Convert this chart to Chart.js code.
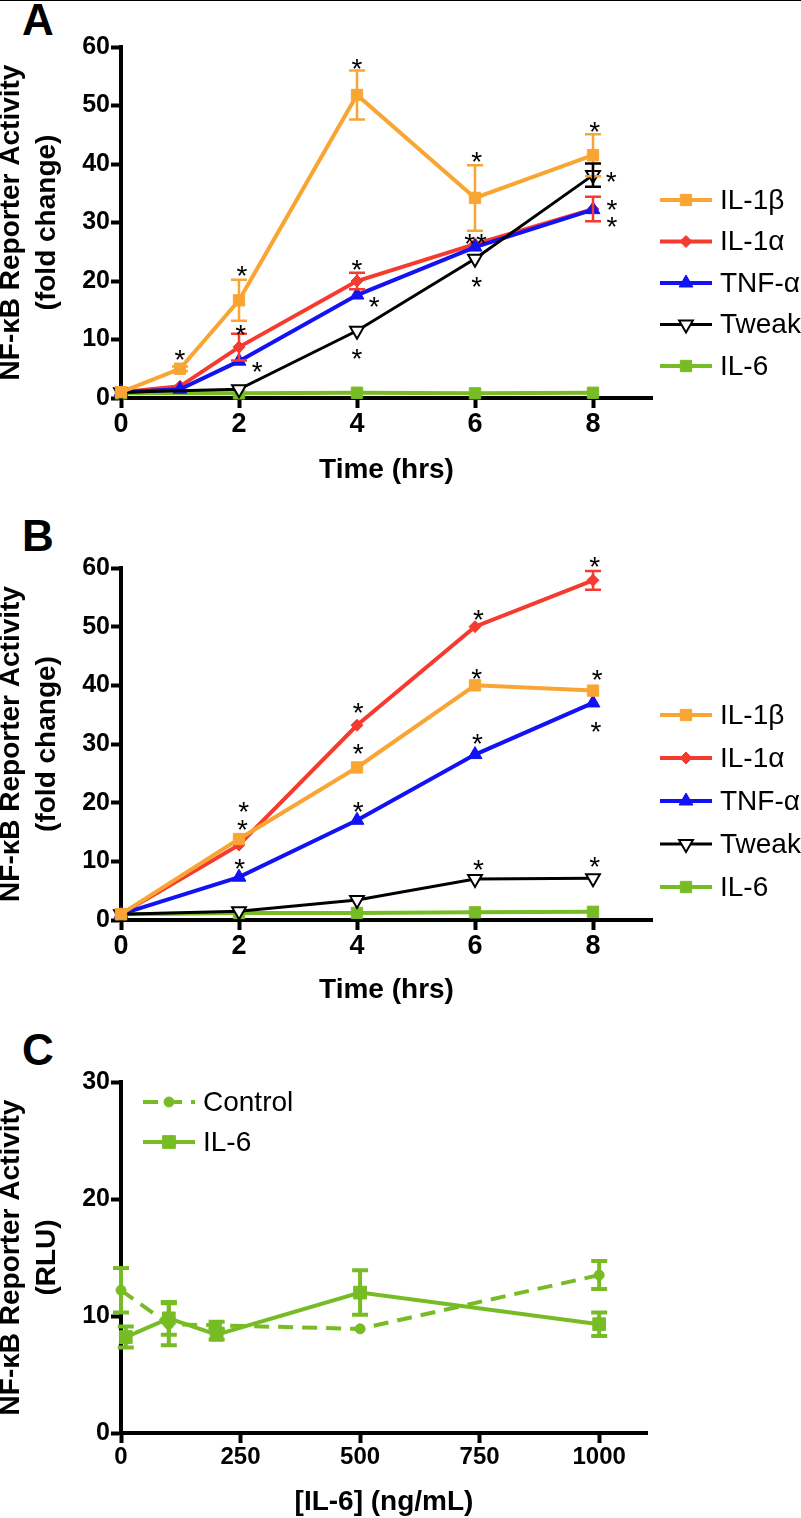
<!DOCTYPE html>
<html>
<head>
<meta charset="utf-8">
<script src="https://cdn.jsdelivr.net/npm/chart.js@4.4.1/dist/chart.umd.min.js"></script>
<style>
  body { margin: 0; background: #fff; width: 801px; height: 1518px; position: relative; overflow: hidden; }
  .topline { position: absolute; left: 0; top: 0; width: 801px; height: 1px; background: #000; }
  canvas { position: absolute; left: 0; }
  .letter { position: absolute; left: 22px; font: bold 44px "Liberation Sans", Arial, sans-serif; line-height: 1; }
</style>
</head>
<body>
<div class="topline"></div>
<div class="letter" style="top:-2px">A</div>
<div class="letter" style="top:514px">B</div>
<div class="letter" style="top:1028px">C</div>
<canvas id="chartA" width="801" height="490" style="top:0px"></canvas>
<canvas id="chartB" width="801" height="520" style="top:490px"></canvas>
<canvas id="chartC" width="801" height="508" style="top:1010px"></canvas>
<script>
const FONT = '"Liberation Sans", Arial, sans-serif';

// ---- Panel A: time course (fold change) ----
const hoursA = [0, 1, 2, 4, 6, 8];
const hoursA2 = [0, 2, 4, 6, 8];        // Tweak and IL-6 have no 1 h point
const il1bA = [1, 5.0, 16.7, 51.8, 34.2, 41.5];
const il1bErrA = [0, 0.4, 3.5, 4.2, 5.6, 3.6];
const il1aA = [1, 2.0, 8.7, 20.0, 26.3, 32.3];
const il1aErrA = [0, 0, 2.3, 1.4, 0, 2.1];
const tnfA = [1, 1.5, 6.3, 17.6, 25.8, 32.2];
const tweakA = [1, 1.5, 11.5, 23.8, 38.1];
const tweakErrA = [0, 0, 0, 0, 2.0];
const il6A = [0.8, 0.8, 0.9, 0.8, 0.9];
const starsA = [[1, 7.7], [2.05, 22], [2.03, 12.0], [2.31, 5.6], [4, 57.4], [4, 23.1], [4.29, 16.8], [4, 7.9],
  [6.03, 41.5], [5.91, 27.6], [6.11, 27.6], [6.03, 20.2], [8.03, 46.7], [8.31, 38.1], [8.32, 33.3], [8.32, 30.4]];
const xTicksA = [0, 2, 4, 6, 8];
const yTicksA = [0, 10, 20, 30, 40, 50, 60];

// ---- Panel B: time course (fold change) ----
const hoursB = [0, 2, 4, 6, 8];
const il1bB = [1, 13.8, 26.0, 40.0, 39.1];
const il1aB = [1, 12.8, 33.2, 50.0, 57.9];
const il1aErrB = [0, 0, 0, 0, 1.6];
const tnfB = [1, 7.3, 17.0, 28.2, 37.0];
const tweakB = [1, 1.5, 3.4, 7.0, 7.1];
const il6B = [1, 1.2, 1.2, 1.3, 1.4];
const starsB = [[2.08, 19.6], [2.06, 16.5], [2.01, 9.9], [4.02, 36.5], [4.02, 29.5], [4.02, 19.6],
  [6.06, 52.3], [6.03, 42.2], [6.04, 31.2], [6.06, 9.7], [8.03, 61.3], [8.07, 42.1], [8.05, 33.2], [8.03, 10.2]];

// ---- Panel C: IL-6 dose response (RLU) ----
const doseControl = [0, 100, 200, 500, 1000];
const control = [12.2, 9.3, 9.2, 8.9, 13.5];
const controlErr = [1.9, 1.8, 0.3, 0, 1.2];
const doseIL6 = [10, 100, 200, 500, 1000];
const il6 = [8.2, 9.8, 8.4, 12.0, 9.3];
const il6Err = [0.9, 1.4, 0.4, 1.9, 1.0];
const xTicksC = [0, 250, 500, 750, 1000];
const yTicksC = [0, 10, 20, 30];

const ORANGE = '#F9A533', RED = '#F53B2F', BLUE = '#1212F2', GREEN = '#78BC25';

function pts(xs, ys) {
  return xs.map((x, i) => ({ x: x, y: ys[i] }));
}

function series(label, xs, ys, errs, color, extra) {
  return Object.assign({
    label: label,
    data: pts(xs, ys),
    errors: errs,
    borderColor: color,
    backgroundColor: color,
    pointBackgroundColor: color,
    pointBorderColor: color,
    pointBorderWidth: 1,
    borderWidth: 4,
    pointRadius: 8,
    pointStyle: 'rect',
    fill: false,
    tension: 0,
    clip: false
  }, extra || {});
}

// error bars with caps
const errorBars = {
  id: 'errorBars',
  afterDatasetsDraw(chart, args, opts) {
    const ctx = chart.ctx;
    const xs = chart.scales.x, ys = chart.scales.y;
    chart.data.datasets.forEach(ds => {
      if (!ds.errors) return;
      ctx.save();
      ctx.strokeStyle = ds.borderColor;
      ctx.lineWidth = opts.width;
      ds.data.forEach((p, j) => {
        const e = ds.errors[j];
        if (!e) return;
        const px = xs.getPixelForValue(p.x);
        const top = ys.getPixelForValue(p.y + e);
        const bot = ys.getPixelForValue(p.y - e);
        const w = opts.cap;
        ctx.beginPath();
        ctx.moveTo(px, top); ctx.lineTo(px, bot);
        ctx.moveTo(px - w, top); ctx.lineTo(px + w, top);
        ctx.moveTo(px - w, bot); ctx.lineTo(px + w, bot);
        ctx.stroke();
      });
      ctx.restore();
    });
  }
};

// significance asterisks
const stars = {
  id: 'stars',
  afterDatasetsDraw(chart, args, opts) {
    if (!opts.points) return;
    const ctx = chart.ctx;
    ctx.save();
    ctx.fillStyle = '#000';
    ctx.font = '28px ' + FONT;
    ctx.textAlign = 'center';
    ctx.textBaseline = 'alphabetic';
    opts.points.forEach(([x, y]) => {
      ctx.fillText('*', chart.scales.x.getPixelForValue(x), chart.scales.y.getPixelForValue(y) + 16);
    });
    ctx.restore();
  }
};

// legend with line + marker samples, like the original figure
const sideLegend = {
  id: 'sideLegend',
  afterDraw(chart, args, opts) {
    const ctx = chart.ctx;
    chart.data.datasets.forEach((ds, i) => {
      const y = opts.y + i * opts.gap;
      ctx.save();
      ctx.strokeStyle = ds.borderColor;
      ctx.lineWidth = ds.borderWidth;
      ctx.setLineDash(ds.borderDash || []);
      ctx.beginPath();
      ctx.moveTo(opts.x, y);
      ctx.lineTo(opts.x + opts.len, y);
      ctx.stroke();
      ctx.setLineDash([]);
      ctx.fillStyle = ds.pointBackgroundColor;
      ctx.strokeStyle = ds.pointBorderColor;
      ctx.lineWidth = ds.pointBorderWidth;
      Chart.helpers.drawPoint(ctx, {
        pointStyle: ds.pointStyle, rotation: ds.pointRotation || 0,
        radius: ds.pointRadius, borderWidth: ds.pointBorderWidth
      }, opts.x + opts.len / 2, y);
      ctx.fillStyle = '#000';
      ctx.font = '28px ' + FONT;
      ctx.textBaseline = 'middle';
      ctx.fillText(ds.label, opts.x + opts.len + 8, y + 1);
      ctx.restore();
    });
  }
};

function buildOptions(p) {
  return {
    responsive: false,
    animation: false,
    events: [],
    layout: { padding: { top: p.top, right: p.right, left: 0, bottom: 0 } },
    plugins: {
      legend: { display: false },
      tooltip: { enabled: false },
      sideLegend: p.legend,
      stars: { points: p.stars },
      errorBars: p.err
    },
    scales: {
      x: {
        type: 'linear', min: 0, max: p.xMax,
        afterBuildTicks: s => { s.ticks = p.xTicks.map(v => ({ value: v })); },
        afterFit: s => { s.height = p.xHeight; },
        ticks: { color: '#000', font: { family: FONT, size: p.xTickSize, weight: 'bold' }, padding: 0, maxRotation: 0, autoSkip: false,
          callback: v => String(v) },
        grid: { drawOnChartArea: false, drawTicks: true, tickLength: 10, tickWidth: 4, tickColor: '#000' },
        border: { color: '#000', width: 4 },
        title: { display: true, text: p.xTitle, color: '#000', font: { family: FONT, size: 28, weight: 'bold', lineHeight: 1 }, padding: { top: 0, bottom: p.xTitlePad } }
      },
      y: {
        type: 'linear', min: 0, max: p.yMax,
        afterBuildTicks: s => { s.ticks = p.yTicks.map(v => ({ value: v })); },
        afterFit: s => { s.width = 121; },
        ticks: { color: '#000', font: { family: FONT, size: 25, weight: 'bold' }, padding: 1, callback: v => String(v) },
        grid: { drawOnChartArea: false, drawTicks: true, tickLength: 10, tickWidth: 4, tickColor: '#000' },
        border: { color: '#000', width: 4 },
        title: { display: true, text: p.yTitle, color: '#000', font: { family: FONT, size: 28, weight: 'bold', lineHeight: 1.29 }, padding: { top: -7, bottom: 0 } }
      }
    }
  };
}

function timeSets(h1, h2, b, bErr, a, aErr, t, w, wErr, g) {
  return [
    series('IL-1β', h1, b, bErr, ORANGE, { order: 0 }),
    series('IL-1α', h1, a, aErr, RED, { pointStyle: 'rectRot', pointRadius: 6, order: 3 }),
    series('TNF-α', h1, t, null, BLUE, { pointStyle: 'triangle', pointRadius: 8, order: 2 }),
    series('Tweak', h2, w, wErr, '#000', { pointStyle: 'triangle', pointRotation: 180, pointRadius: 8, borderWidth: 3,
      pointBackgroundColor: '#fff', pointBorderWidth: 2, order: 1 }),
    series('IL-6', h2, g, null, GREEN, { order: 4 })
  ];
}

const plugins = [errorBars, stars, sideLegend];

new Chart(document.getElementById('chartA'), {
  type: 'line',
  data: { datasets: timeSets(hoursA, hoursA2, il1bA, il1bErrA, il1aA, il1aErrA, tnfA, tweakA, tweakErrA, il6A) },
  options: buildOptions({
    top: 47, right: 149, xMax: 9, xTicks: xTicksA, xHeight: 92, xTickSize: 27,
    xTitle: 'Time (hrs)', xTitlePad: 6, yMax: 60, yTicks: yTicksA,
    yTitle: ['NF-\u03baB Reporter Activity', '(fold change)'],
    legend: { x: 660, y: 200, gap: 41.5, len: 52 },
    stars: starsA, err: { width: 2.5, cap: 8 }
  }),
  plugins: plugins
});

new Chart(document.getElementById('chartB'), {
  type: 'line',
  data: { datasets: timeSets(hoursB, hoursB, il1bB, null, il1aB, il1aErrB, tnfB, tweakB, null, il6B) },
  options: buildOptions({
    top: 78, right: 149, xMax: 9, xTicks: xTicksA, xHeight: 90, xTickSize: 27,
    xTitle: 'Time (hrs)', xTitlePad: 6, yMax: 60, yTicks: yTicksA,
    yTitle: ['NF-\u03baB Reporter Activity', '(fold change)'],
    legend: { x: 660, y: 225, gap: 43, len: 52 },
    stars: starsB, err: { width: 2.5, cap: 8 }
  }),
  plugins: plugins
});

new Chart(document.getElementById('chartC'), {
  type: 'line',
  data: {
    datasets: [
      series('Control', doseControl, control, controlErr, GREEN, { pointStyle: 'circle', pointRadius: 5, borderDash: [15, 9] }),
      series('IL-6', doseIL6, il6, il6Err, GREEN, { pointRadius: 9 })
    ]
  },
  options: buildOptions({
    top: 72, right: 154, xMax: 1100, xTicks: xTicksC, xHeight: 85, xTickSize: 24,
    xTitle: '[IL-6] (ng/mL)', xTitlePad: 2, yMax: 30, yTicks: yTicksC,
    yTitle: ['NF-\u03baB Reporter Activity', '(RLU)'],
    legend: { x: 143, y: 92, gap: 40, len: 52 },
    stars: null, err: { width: 4, cap: 8 }
  }),
  plugins: plugins
});
</script>
</body>
</html>
